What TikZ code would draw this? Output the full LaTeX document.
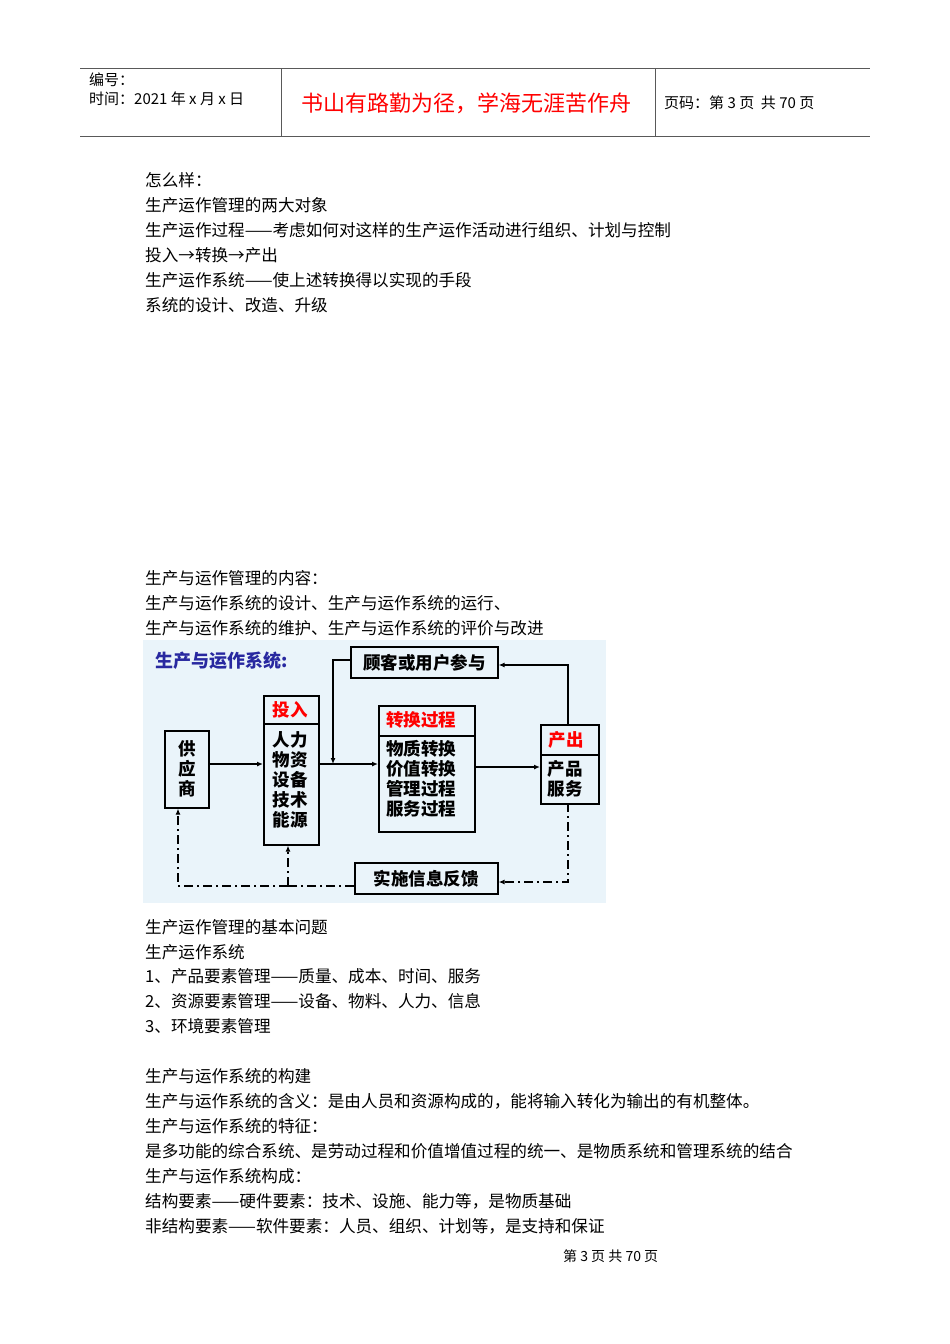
\documentclass[tikz,border=0pt]{standalone}
\usepackage{fontspec}
\setmainfont{Noto Sans CJK SC}
\usetikzlibrary{arrows.meta}
\definecolor{bgblue}{RGB}{234,244,250}
\definecolor{ttlblue}{RGB}{40,40,160}
\tikzset{
 x=1pt,y=-1pt,
 body/.style={anchor=west,inner sep=0pt,font=\fontsize{16.6}{16.6}\selectfont},
 hdr/.style={anchor=west,inner sep=0pt,font=\fontsize{15}{15}\selectfont},
 blk/.style={draw,line width=1.6pt},
 btxt/.style={inner sep=0pt,font=\fontsize{17.5}{20}\selectfont\bfseries,align=left},
 arr/.style={line width=1.4pt,-{Latex[length=6pt,width=5pt]}},
 darr/.style={line width=1.4pt,dash pattern=on 9pt off 4pt on 2pt off 4pt,-{Latex[length=6pt,width=5pt]}},
 dln/.style={line width=1.4pt,dash pattern=on 9pt off 4pt on 2pt off 4pt},
}
\begin{document}
\begin{tikzpicture}
\useasboundingbox[fill=white] (0,0) rectangle (950,1344);
% header
\draw[gray!70!black,line width=0.8pt] (80,68) -- (870,68) (80,136) -- (870,136) (281,68) -- (281,136) (655,68) -- (655,136);
\node[hdr] (h1) at (89,80) {编号：};
\node[hdr] (h2) at (89,99) {时间：2021 年 x 月 x 日};
\node[anchor=west,inner sep=0pt,text=red,font=\fontsize{22}{22}\selectfont] (h3) at (301,103) {书山有路勤为径，学海无涯苦作舟};
\node[hdr] (h4) at (664,103) {页码：第 3 页\ \ 共 70 页};
% body
\foreach \y/\t [count=\i] in {180/怎么样：,205/生产运作管理的两大对象,230/生产运作过程——考虑如何对这样的生产运作活动进行组织、计划与控制,255/投入→转换→产出,280/生产运作系统——使上述转换得以实现的手段,305/系统的设计、改造、升级,578/生产与运作管理的内容：,603/生产与运作系统的设计、生产与运作系统的运行、,628/生产与运作系统的维护、生产与运作系统的评价与改进,927/生产运作管理的基本问题,952/生产运作系统,976/1、产品要素管理——质量、成本、时间、服务,1001/2、资源要素管理——设备、物料、人力、信息,1026/3、环境要素管理,1076/生产与运作系统的构建,1101/生产与运作系统的含义：是由人员和资源构成的，能将输入转化为输出的有机整体。,1126/生产与运作系统的特征：,1151/是多功能的综合系统、是劳动过程和价值增值过程的统一、是物质系统和管理系统的结合,1176/生产与运作系统构成：,1201/结构要素——硬件要素：技术、设施、能力等，是物质基础,1226/非结构要素——软件要素：人员、组织、计划等，是支持和保证}
  \node[body] (t\i) at (145,\y) {\t};
\node[anchor=west,inner sep=0pt,font=\fontsize{14}{14}\selectfont] (foot) at (563,1256) {第 3 页 共 70 页};
% diagram
\fill[bgblue] (143,640) rectangle (606,903);
\node[anchor=west,inner sep=0pt,text=ttlblue,font=\fontsize{18}{18}\selectfont\bfseries] (ttl) at (155,661) {生产与运作系统:};
\node[blk,btxt,minimum width=147pt,minimum height=31pt,anchor=north west] (gk) at (350,646) {顾客或用户参与};
\node[blk,minimum width=44pt,minimum height=77pt,anchor=north west] (gys) at (164,730) {};
\node[btxt,align=center] at (gys.center) {供\\应\\商};
\node[blk,minimum width=55pt,minimum height=149pt,anchor=north west] (tr) at (263,695) {};
\draw[line width=1.6pt] (263,724) -- (318,724);
\node[btxt,text=red] at (290,710) {投入};
\node[btxt,anchor=north] at (290,731) {人力\\物资\\设备\\技术\\能源};
\node[blk,minimum width=96pt,minimum height=126pt,anchor=north west] (zh) at (378,705) {};
\draw[line width=1.6pt] (378,736) -- (474,736);
\node[btxt,text=red] at (421,720) {转换过程};
\node[btxt,anchor=north] at (421,740) {物质转换\\价值转换\\管理过程\\服务过程};
\node[blk,minimum width=58pt,minimum height=79pt,anchor=north west] (cc) at (540,724) {};
\draw[line width=1.6pt] (540,755) -- (598,755);
\node[btxt,text=red] at (566,740) {产出};
\node[btxt,anchor=north] at (565,760) {产品\\服务};
\node[blk,btxt,minimum width=143pt,minimum height=31pt,anchor=north west] (fk) at (354,862) {实施信息反馈};
% connectors
\coordinate (j) at (333,764);
\draw[arr] (gys.east |- 0,764) -- (tr.west |- 0,764);
\draw[arr] (tr.east |- 0,764) -- (zh.west |- 0,764);
\draw[arr] (gk.west |- 0,660) -| (j);
\draw[arr] (zh.east |- 0,767) -- (cc.west |- 0,767);
\draw[arr] (568,724) |- (gk.east |- 0,665);
\draw[darr] (568,803) |- (fk.east |- 0,882);
\draw[dln] (fk.west |- 0,886) -- (288,886);
\draw[darr] (288,886) -| (gys.south -| 178,0);
\draw[darr] (288,886) -- (tr.south -| 288,0);
\end{tikzpicture}
\end{document}
